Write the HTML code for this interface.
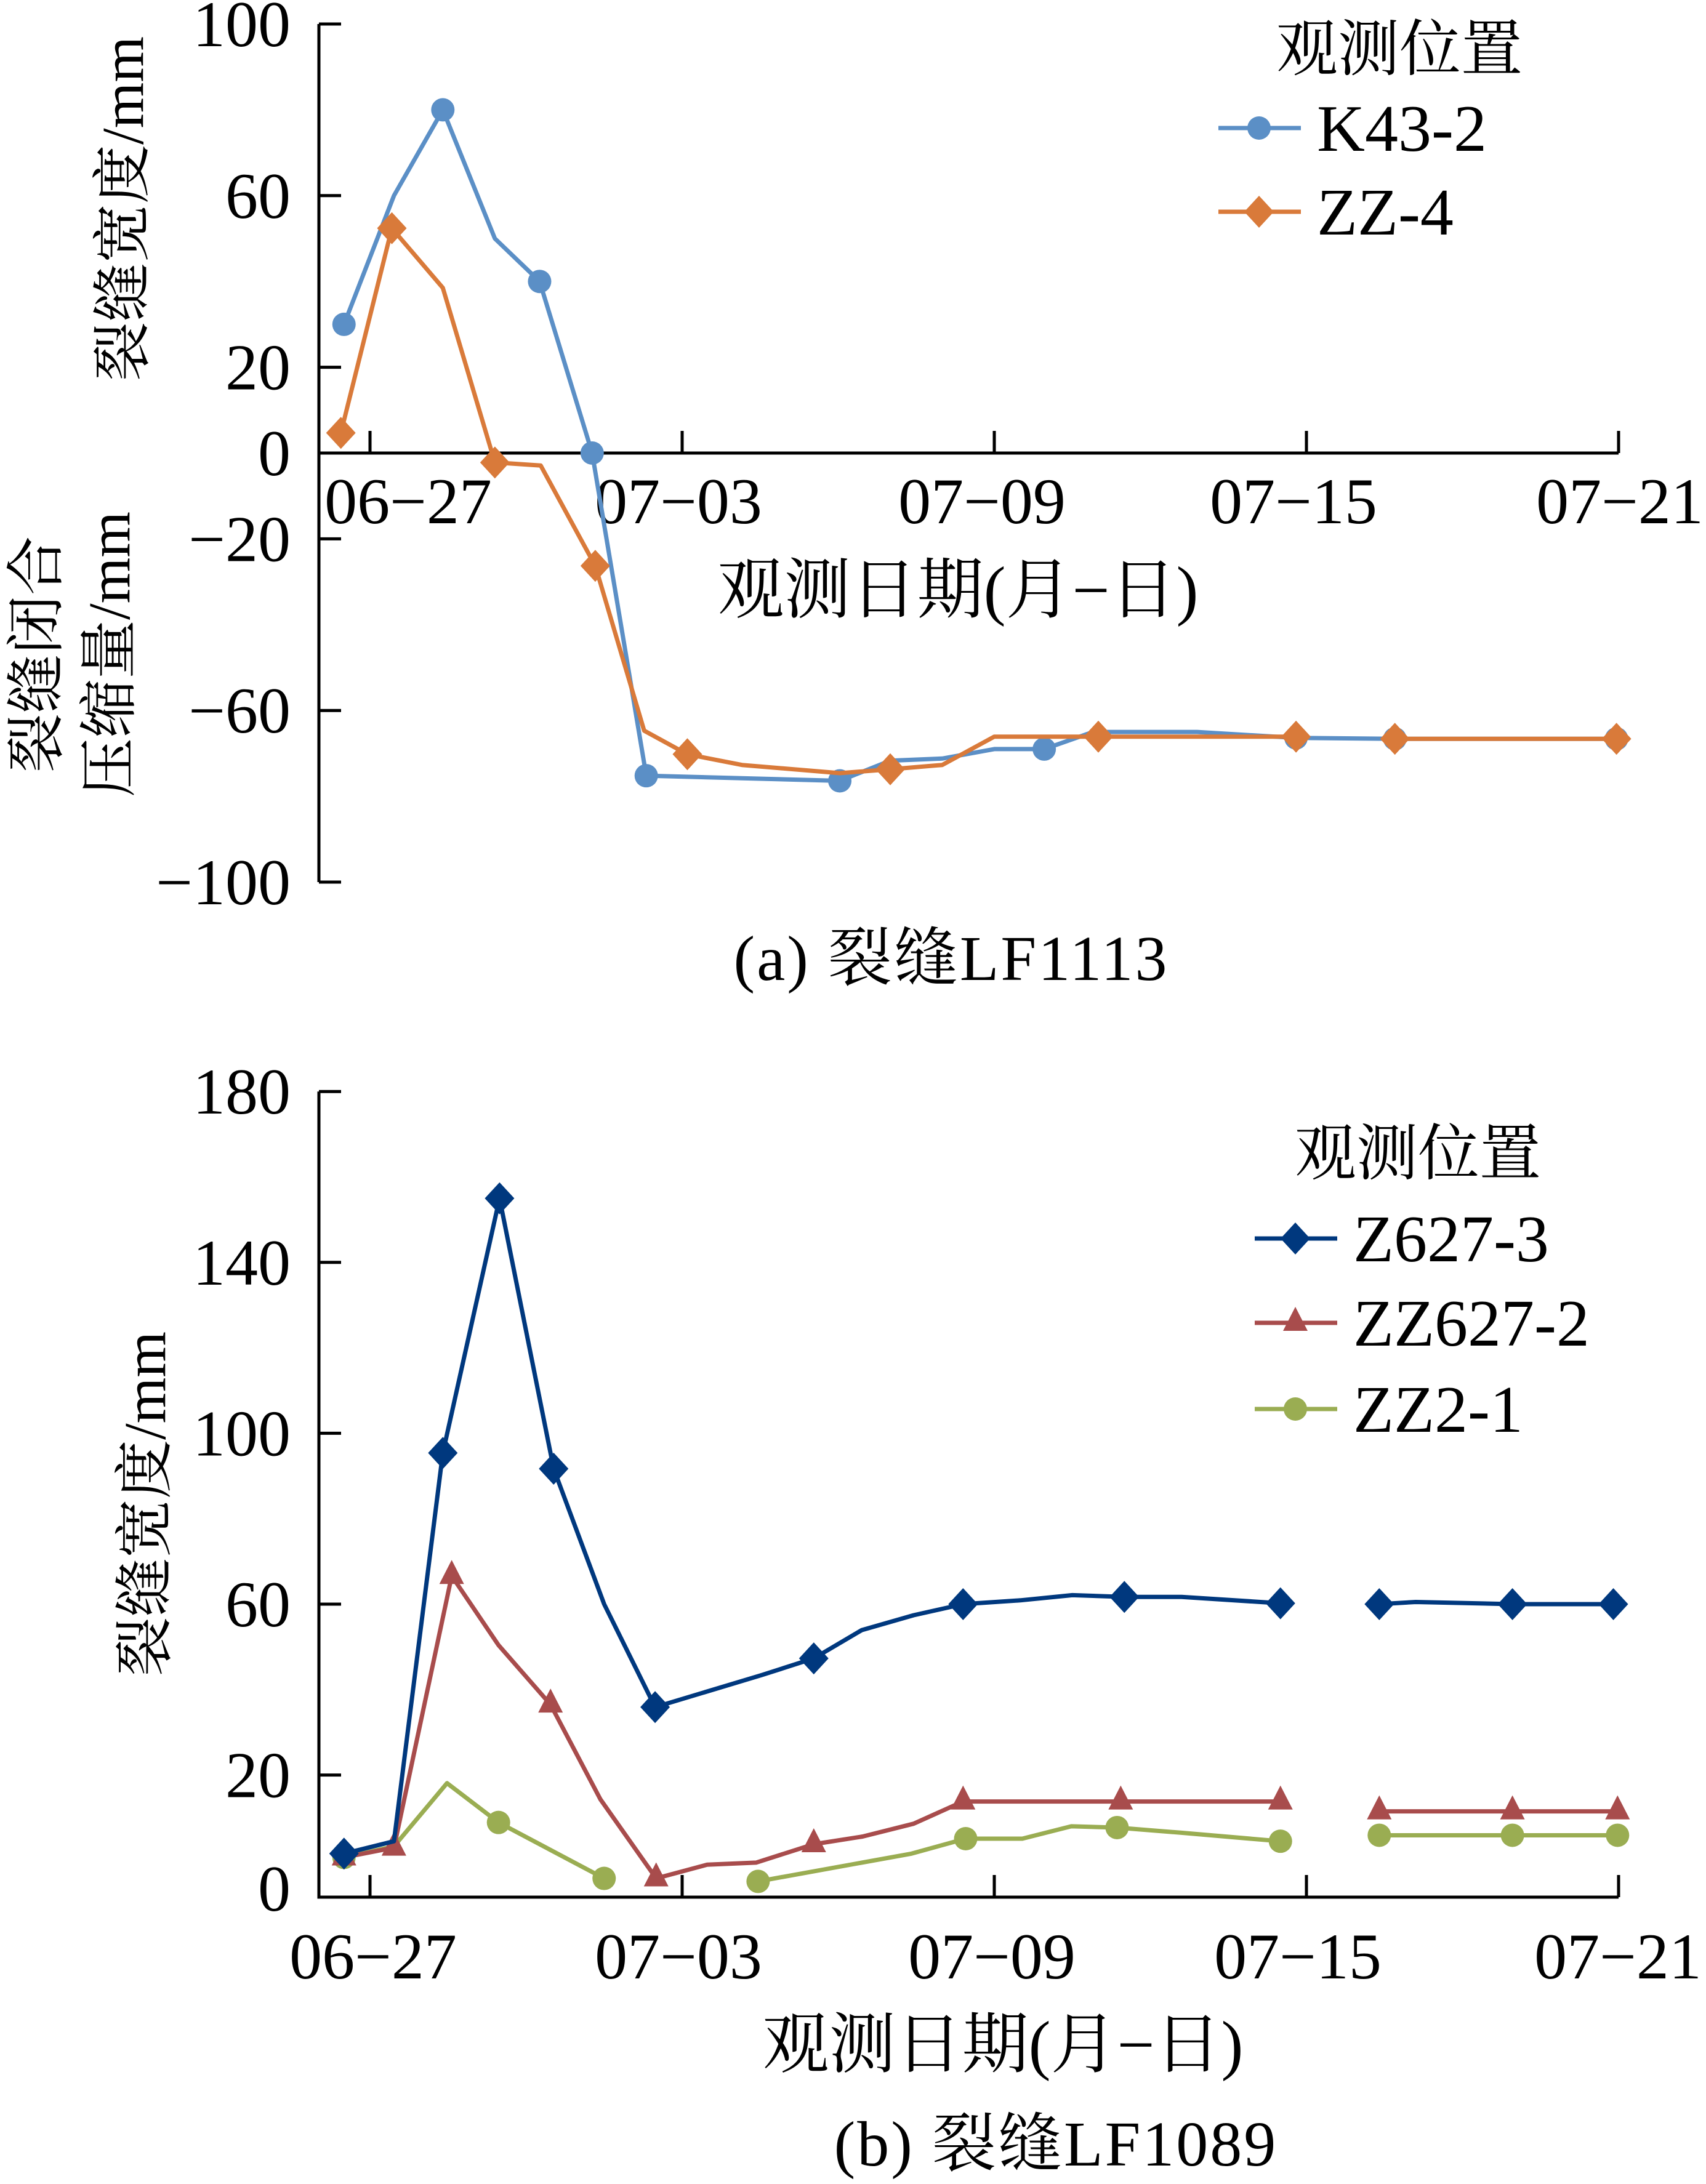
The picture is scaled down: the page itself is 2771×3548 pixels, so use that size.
<!DOCTYPE html>
<html><head><meta charset="utf-8">
<style>
html,body{margin:0;padding:0;background:#fff;}
svg{display:block;}
text{font-family:"Liberation Serif","Noto Serif CJK SC","Noto Sans CJK SC",serif;fill:#000;}
</style></head>
<body>
<svg id="chart" width="2771" height="3548" viewBox="0 0 2771 3548" xmlns="http://www.w3.org/2000/svg">
<g id="topG"></g>
<g id="botG"></g>
</svg>
<script>
// ---------- shared x axis (days after 06-27) ----------
const xTickLabels = ["06\u221227","07\u221203","07\u221209","07\u221215","07\u221221"];
const xTickDays = [0,6,12,18,24];

// ---------- chart (a) LF1113 ----------
const aK43Days   = [-0.5,0.46,1.4,2.4,3.26,4.27,5.31,9.03,10.0,11.0,12.0,12.96,13.9,15.9,17.8,19.7,23.96];
const aK43Vals   = [30,60,80,50,40,0,-75.2,-76.4,-71.7,-71.2,-69,-69,-65,-65,-66.4,-66.6,-66.6];
const aK43Mark   = [1,0,1,0,1,1,1,1,0,0,0,1,0,0,1,1,1];
const aZZ4Days   = [-0.56,0.42,1.4,2.4,3.28,4.33,5.27,6.1,7.15,9.03,10.0,11.0,12.0,14.0,17.8,null,19.7,23.96];
const aZZ4Vals   = [4.7,52.4,38.5,-2.2,-2.9,-26.3,-64.7,-70.2,-72.7,-74.6,-73.7,-72.7,-66.1,-66.1,-66.1,null,-66.6,-66.6];
const aZZ4Mark   = [1,1,0,1,0,1,0,1,0,0,1,0,0,1,1,0,1,1];
const aYTicks    = [100,60,20,0,-20,-60,-100];
const aYTickLabels = ["100","60","20","0","\u221220","\u221260","\u2212100"];

// ---------- chart (b) LF1089 ----------
const bZ3Days  = [-0.5,0.46,1.4,2.49,3.53,4.5,5.48,7.53,8.53,9.45,10.45,11.4,12.5,13.5,14.5,15.6,17.5,null,19.4,20.1,21.96,23.9];
const bZ3Vals  = [1.6,4.5,95.4,155,91.7,60,35.9,43.4,47.3,53.9,57.4,60,60.9,62.1,61.7,61.7,60.2,null,60,60.5,60,60];
const bZ3Mark  = [1,0,1,1,1,0,1,0,1,0,0,1,0,0,1,0,1,0,1,0,1,1];
const bZZ2Days = [-0.5,0.46,1.57,2.47,3.47,4.43,5.5,6.48,7.42,8.53,9.47,10.45,11.4,14.43,17.5,null,19.4,21.96,23.98];
const bZZ2Vals = [0.7,3.0,66.6,50.4,36.5,14.3,-4.2,-1.0,-0.5,3.8,5.6,8.6,13.8,13.8,13.8,null,11.5,11.5,11.5];
const bZZ2Mark = [1,1,1,0,1,0,1,0,0,1,0,0,1,1,1,0,1,1,1];
const bZ21Days = [-0.5,0.46,1.48,2.47,4.5,null,7.46,10.41,11.45,12.54,13.48,14.36,15.58,17.5,null,19.4,21.96,23.98];
const bZ21Vals = [0.7,3.3,18.1,8.9,-4.2,null,-4.9,1.6,5.1,5.1,8.0,7.7,6.5,4.5,null,5.9,5.9,5.9];
const bZ21Mark = [1,0,0,1,1,0,1,0,1,0,0,1,0,1,0,1,1,1];
const bYTicks  = [180,140,100,60,20];
const bYTickLabels = ["180","140","100","60","20"];
const bYMinLabel = "0";

const NS = "http://www.w3.org/2000/svg";
function mk(parent, tag, attrs){
  const e = document.createElementNS(NS, tag);
  for (const k in attrs) e.setAttribute(k, attrs[k]);
  parent.appendChild(e);
  return e;
}
const X0 = 518, X1 = 2629;
const xScale = d => 601 + d * ((2629 - 601) / 24);
const yA = v => 736 - v * (139.4 / 20);
const yB = v => 2606 - (v - 60) * (138.8 / 20);
const B_MIN = 60 - (3082 - 2606) / (138.8 / 20);

function marker(g, type, x, y, color){
  let m;
  if (type === "circle") m = mk(g, "ellipse", {cx:x, cy:y, rx:19, ry:19, fill:color});
  else if (type === "diamond") m = mk(g, "polygon", {points:`${x},${y-26} ${x+24},${y} ${x},${y+26} ${x-24},${y}`, fill:color});
  else m = mk(g, "polygon", {points:`${x},${y-26} ${x+20},${y+13} ${x-20},${y+13}`, fill:color});
  
  
}
function series(g, name, days, vals, marks, yf, color, type){
  const sg = mk(g, "g", {});
  
  
  let pts = [];
  const flush = () => {
    if (pts.length > 1) {
      const p = mk(sg, "polyline", {points: pts.join(" "), fill:"none", stroke:color, "stroke-width":7, "stroke-linejoin":"round"});
      
      
    }
    pts = [];
  };
  for (let i = 0; i < days.length; i++) {
    if (days[i] === null) { flush(); continue; }
    pts.push(xScale(days[i]).toFixed(1) + "," + yf(vals[i]).toFixed(1));
  }
  flush();
  for (let i = 0; i < days.length; i++) {
    if (days[i] !== null && marks[i]) marker(sg, type, xScale(days[i]), yf(vals[i]), color);
  }
}
function txt(g, s, x, y, size, anchor, name, extra){
  const t = mk(g, "text", Object.assign({x:x, y:y, "font-size":size, "text-anchor":anchor}, extra||{}));
  t.textContent = s;
  
  
  return t;
}
function legendEntry(g, label, x, y, color, type){
  const lg = mk(g, "g", {});
  
  
  const l = mk(lg, "line", {x1:x, y1:y, x2:x+134, y2:y, stroke:color, "stroke-width":7});
  
  
  marker(lg, type, x+66, y, color);
  txt(lg, label, x+160, y+37, 108, "start", "legend-label");
}

// ----- chart a -----
(function(){
  const g = document.getElementById("topG");
  const ax = mk(g, "path", {d:`M${X0},${yA(100)} V${yA(-100)} M${X0},${yA(0)} H${X1}`, stroke:"#000", "stroke-width":5, fill:"none"});
  
  
  aYTicks.forEach((v, i) => {
    const t = mk(g, "line", {x1:X0, y1:yA(v), x2:X0+36, y2:yA(v), stroke:"#000", "stroke-width":5});
    
    
    txt(g, aYTickLabels[i], 472, yA(v)+36, 106, "end", "y-tick-label");
  });
  xTickDays.forEach((d, i) => {
    const t = mk(g, "line", {x1:xScale(d), y1:yA(0), x2:xScale(d), y2:yA(0)-36, stroke:"#000", "stroke-width":5});
    
    
    const cx = [663,1102,1595,2101,2631][i];
    txt(g, xTickLabels[i], cx, 850, 106, "middle", "x-tick-label");
  });
  series(g, "series-k43-2", aK43Days, aK43Vals, aK43Mark, yA, "#5b8fc6", "circle");
  series(g, "series-zz-4", aZZ4Days, aZZ4Vals, aZZ4Mark, yA, "#d97a3a", "diamond");
  txt(g, "观测位置", 2273, 114, 100, "middle", "legend-title");
  legendEntry(g, "K43-2", 1979, 208, "#5b8fc6", "circle");
  legendEntry(g, "ZZ-4", 1979, 344, "#d97a3a", "diamond");
  txt(g, "观测日期(月−日)", 1556, 995, 108, "middle", "x-axis-title");
  txt(g, "裂缝宽度/mm", 0, 0, 96, "middle", "y-axis-title-upper", {transform:"translate(232,339) rotate(-90)"});
  txt(g, "裂缝闭合", 0, 0, 96, "middle", "y-axis-title-lower-1", {transform:"translate(92,1063) rotate(-90)"});
  txt(g, "压缩量/mm", 0, 0, 96, "middle", "y-axis-title-lower-2", {transform:"translate(210,1063) rotate(-90)"});
  txt(g, "(a)  裂缝LF1113", 1545, 1592, 104, "middle", "caption-a", {"letter-spacing":"3"});
})();

// ----- chart b -----
(function(){
  const g = document.getElementById("botG");
  const yb0 = yB(B_MIN);
  const ax = mk(g, "path", {d:`M${X0},${yB(180)} V${yb0} H${X1}`, stroke:"#000", "stroke-width":5, fill:"none"});
  
  
  bYTicks.forEach((v, i) => {
    const t = mk(g, "line", {x1:X0, y1:yB(v), x2:X0+36, y2:yB(v), stroke:"#000", "stroke-width":5});
    
    
    txt(g, bYTickLabels[i], 472, yB(v)+36, 106, "end", "y-tick-label");
  });
  txt(g, bYMinLabel, 472, yb0+22, 106, "end", "y-tick-label");
  xTickDays.forEach((d, i) => {
    const t = mk(g, "line", {x1:xScale(d), y1:yb0, x2:xScale(d), y2:yb0-36, stroke:"#000", "stroke-width":5});
    
    
    const cx = [606,1102,1611,2108,2628][i];
    txt(g, xTickLabels[i], cx, 3214, 106, "middle", "x-tick-label");
  });
  series(g, "series-zz2-1", bZ21Days, bZ21Vals, bZ21Mark, yB, "#9aad52", "circle");
  series(g, "series-zz627-2", bZZ2Days, bZZ2Vals, bZZ2Mark, yB, "#a84c4c", "triangle");
  series(g, "series-z627-3", bZ3Days, bZ3Vals, bZ3Mark, yB, "#00387e", "diamond");
  txt(g, "观测位置", 2303, 1908, 100, "middle", "legend-title");
  legendEntry(g, "Z627-3", 2038, 2012, "#00387e", "diamond");
  legendEntry(g, "ZZ627-2", 2038, 2149, "#a84c4c", "triangle");
  legendEntry(g, "ZZ2-1", 2038, 2289, "#9aad52", "circle");
  txt(g, "观测日期(月−日)", 1629, 3358, 108, "middle", "x-axis-title");
  txt(g, "裂缝宽度/mm", 0, 0, 96, "middle", "y-axis-title", {transform:"translate(268,2443) rotate(-90)"});
  txt(g, "(b)  裂缝LF1089", 1715, 3518, 104, "middle", "caption-b", {"letter-spacing":"3"});
})();
</script>
</body></html>
